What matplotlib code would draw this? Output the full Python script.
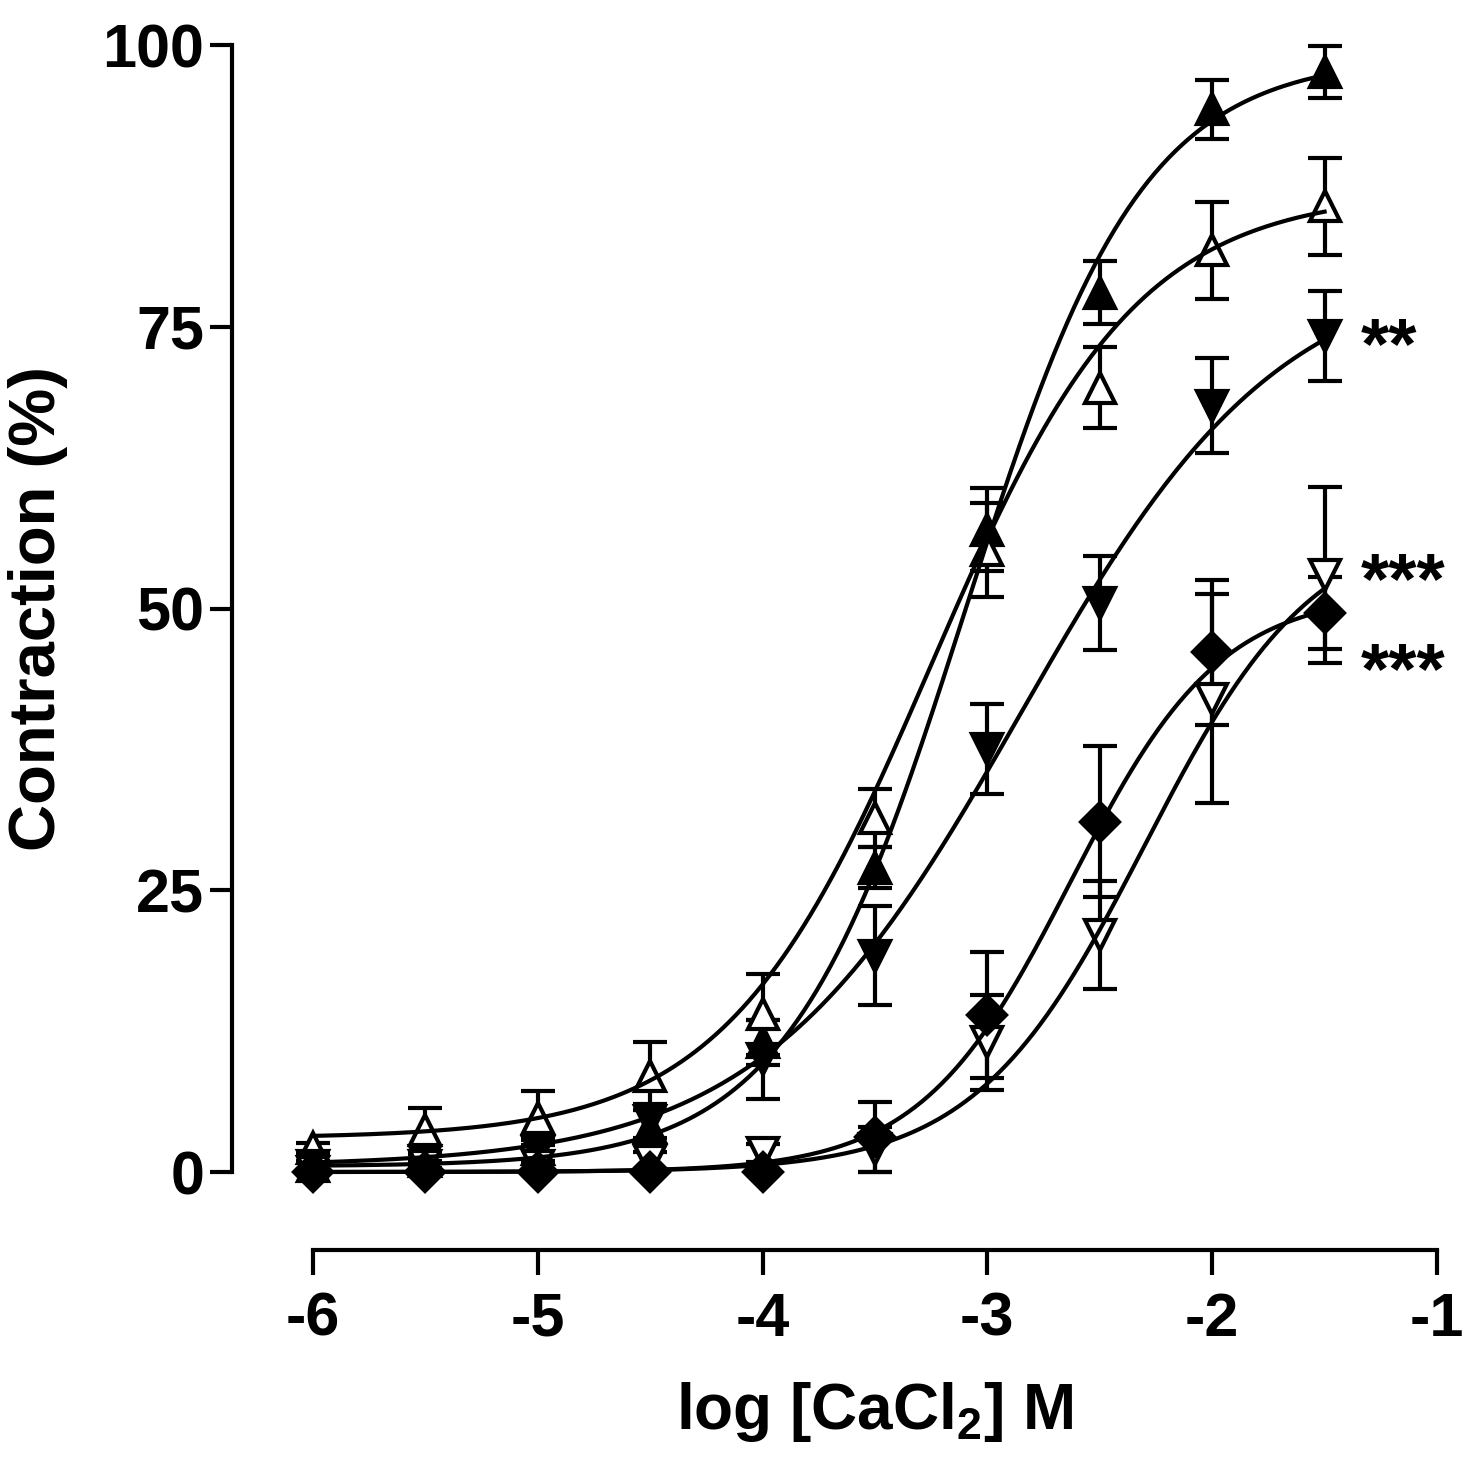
import matplotlib
matplotlib.use("Agg")
import matplotlib.pyplot as plt
import numpy as np

plt.rcParams['font.family'] = ['Liberation Sans', 'DejaVu Sans']
plt.rcParams['font.weight'] = 'bold'
plt.rcParams['mathtext.fontset'] = 'custom'
plt.rcParams['mathtext.rm'] = 'Liberation Sans:bold'
plt.rcParams['mathtext.default'] = 'rm'
plt.rcParams['axes.unicode_minus'] = False

# log [CaCl2] concentrations
log_conc = [-6, -5.5, -5, -4.5, -4, -3.5, -3, -2.5, -2, -1.5]

# mean contraction (%) and SEM for each group
up_filled = [0.5, 1.0, 2.0, 4.0, 11.5, 27.0, 57.0, 78.0, 94.3, 97.6]
up_filled_err = [0.5, 0.8, 1.2, 1.5, 2.0, 1.8, 3.7, 2.8, 2.6, 2.3]

up_open = [2.1, 3.7, 4.8, 8.5, 14.0, 31.4, 55.2, 69.6, 81.8, 85.7]
up_open_err = [0.5, 2.0, 2.4, 3.0, 3.6, 2.6, 4.2, 3.6, 4.3, 4.3]

down_filled = [0.5, 1.0, 1.8, 4.5, 10.0, 19.2, 37.5, 50.5, 68.0, 74.2]
down_filled_err = [0.4, 0.6, 1.0, 1.5, 3.5, 4.4, 4.0, 4.2, 4.2, 4.0]

down_open = [0.0, 0.5, 0.5, 1.0, 1.7, 2.0, 11.5, 21.0, 42.0, 53.0]
down_open_err = [0.3, 0.5, 0.5, 0.8, 0.8, 2.0, 4.2, 4.8, 9.3, 7.8]

diamond = [0.0, 0.0, 0.0, 0.0, 0.0, 3.1, 13.9, 31.1, 46.1, 49.6]
diamond_err = [0.2, 0.2, 0.3, 0.3, 0.3, 3.1, 5.6, 6.7, 6.4, 3.2]

# fitted sigmoidal curves: bottom, top, logEC50, hill slope
fit_up_filled = [0.5, 99.0, -3.1, 1.1]
fit_up_open = [3.0, 87.0, -3.25, 0.95]
fit_down_filled = [0.5, 81.0, -2.85, 0.75]
fit_down_open = [0.0, 58.0, -2.3, 1.15]
fit_diamond = [0.0, 51.5, -2.63, 1.3]

# significance marks next to the last points
sig_labels = ['**', '***', '***']
sig_y = [73.0, 52.2, 44.2]


def hill(x, p):
    bottom, top, ec50, h = p
    return bottom + (top - bottom) / (1 + 10 ** ((ec50 - x) * h))


fig = plt.figure(figsize=(14.79, 14.68), dpi=100)
ax = fig.add_axes([232 / 1479, 218 / 1468, 1205 / 1479, 1205 / 1468])

series = [
    (up_filled, up_filled_err, fit_up_filled, '^', 'black'),
    (up_open, up_open_err, fit_up_open, '^', 'white'),
    (down_filled, down_filled_err, fit_down_filled, 'v', 'black'),
    (down_open, down_open_err, fit_down_open, 'v', 'white'),
    (diamond, diamond_err, fit_diamond, 'D', 'black'),
]

xs = np.linspace(log_conc[0], log_conc[-1], 300)
for vals, err, fit, mk, face in series:
    ax.errorbar(log_conc, vals, yerr=err, fmt='none', ecolor='black',
                elinewidth=3, capsize=12, capthick=3, zorder=2, clip_on=False)
    ms = 19 if mk == 'D' else 22
    ax.plot(log_conc, vals, linestyle='none', marker=mk, ms=ms,
            mfc=face, mec='black', mew=3, zorder=3, clip_on=False)
    ax.plot(xs, hill(xs, fit), color='black', lw=3, zorder=4, clip_on=False)

for lab, yy in zip(sig_labels, sig_y):
    ax.text(-1.34, yy, lab, fontsize=52, fontweight='bold', ha='left',
            va='center', clip_on=False)

ax.set_xlim(-6.36, -1)
ax.set_ylim(-6.92, 100)
ax.spines['top'].set_visible(False)
ax.spines['right'].set_visible(False)
ax.spines['left'].set_bounds(0, 100)
ax.spines['bottom'].set_bounds(-6, -1)
for s in ['left', 'bottom']:
    ax.spines[s].set_linewidth(3)
ax.set_xticks([-6, -5, -4, -3, -2, -1])
ax.set_yticks([0, 25, 50, 75, 100])
ax.tick_params(axis='y', length=16, width=3, labelsize=44, pad=4)
ax.tick_params(axis='x', length=18, width=3, labelsize=44, pad=12)
for t in ax.get_xticklabels() + ax.get_yticklabels():
    t.set_fontweight('bold')

ax.set_xlabel('log [CaCl$_2$] M', fontsize=46, fontweight='bold')
ax.set_ylabel('Contraction (%)', fontsize=47, fontweight='bold')
# labels centred on the spine ranges, as in the original
ax.xaxis.set_label_coords((-3.5 + 6.36) / 5.36, -0.108)
ax.yaxis.set_label_coords(-0.136, (50 + 6.92) / 106.92)

fig.savefig('out.png', dpi=100)
